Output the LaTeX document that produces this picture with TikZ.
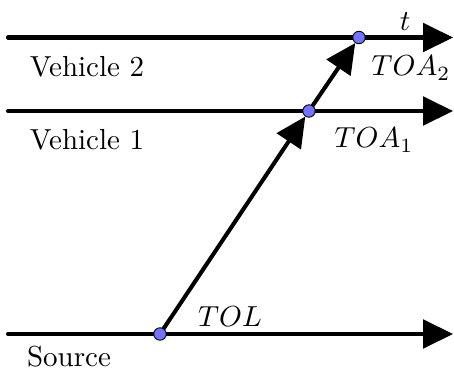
\documentclass[tikz,border=0pt]{standalone}
\usetikzlibrary{arrows.meta,backgrounds}
\begin{document}
\begin{tikzpicture}[x=0.345pt,y=-0.345pt,
  axis/.style={line width=1.4pt,line cap=round,-{Triangle[length=10.3pt,width=9.8pt]}},
  event/.style={circle,inner sep=0pt,minimum size=4.3pt,fill=blue!55,draw=black,line width=0.3pt},
  lbl/.style={inner sep=0pt}]
\useasboundingbox (0,0) rectangle (454,374);
\node[event] (e2) at (359,37.5) {};
\node[event] (e1) at (309,111) {};
\node[event] (e0) at (160,334) {};
\coordinate (a2) at (8,37.5);  \coordinate (b2) at (453,37.5);
\coordinate (a1) at (8,111);   \coordinate (b1) at (453,111);
\coordinate (a0) at (8,334);   \coordinate (b0) at (453,334);
\begin{pgfonlayer}{background}
\draw[axis] (a2) -- (b2);
\draw[axis] (a1) -- (b1);
\draw[axis] (a0) -- (b0);
\draw[axis,line cap=butt] (e0.center) -- (e1);
\draw[axis,line cap=butt] (e1.center) -- (e2);
\end{pgfonlayer}
\node[lbl] (tl) at (405,22) {$t$};
\node[lbl] (toa2) at (411,68) {$TOA_2$};
\node[lbl] (toa1) at (374,140) {$TOA_1$};
\node[lbl] (tol) at (230,317) {$TOL$};
\node[lbl] (v2) at (87,67) {Vehicle 2};
\node[lbl] (v1) at (87,140) {Vehicle 1};
\node[lbl] (src) at (69,357) {Source};
\end{tikzpicture}
\end{document}
